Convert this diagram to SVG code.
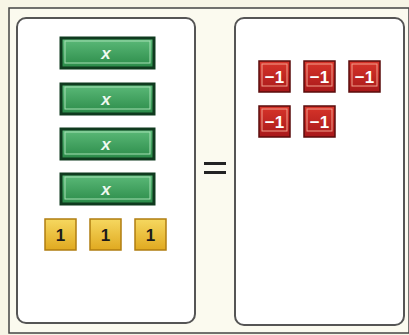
<svg xmlns="http://www.w3.org/2000/svg" width="409" height="335" viewBox="0 0 409 335">
<defs>
<linearGradient id="gg" x1="0" y1="0" x2="0" y2="1"><stop offset="0" stop-color="#5dbb7a"/><stop offset="1" stop-color="#2a8a48"/></linearGradient>
<linearGradient id="yg" x1="0" y1="0" x2="0" y2="1"><stop offset="0" stop-color="#f6d860"/><stop offset="1" stop-color="#e0a920"/></linearGradient>
<linearGradient id="rg" x1="0" y1="0" x2="0" y2="1"><stop offset="0" stop-color="#d8352a"/><stop offset="1" stop-color="#a8181a"/></linearGradient>
</defs>
<style>
.panel{fill:#ffffff;stroke:#555;stroke-width:2}
.g{fill:url(#gg);stroke:#0f3a1e;stroke-width:3}
.gi{fill:none;stroke:#a6e0b4;stroke-width:1}
.y{fill:url(#yg);stroke:#b07d10;stroke-width:1.5}
.r{fill:url(#rg);stroke:#5a0c0c;stroke-width:1.5}
.ri{fill:none;stroke:#f2a08c;stroke-width:1}
.tx{font-family:"Liberation Sans",Arial,sans-serif;font-weight:bold;text-anchor:middle}
.xt{font-size:17px;fill:#eef8f0;font-style:italic}
.ot{font-size:17px;fill:#1a1a1a}
.nt{font-size:17px;fill:#fff}
</style>
<rect x="0" y="0" width="409" height="335" fill="#f7f5e6"/>
<rect x="9" y="8" width="400" height="325" fill="#fbfaef" stroke="#444" stroke-width="1.5"/>
<g id="left-panel"><rect class="panel" x="17" y="18" width="178" height="305" rx="9"/></g>
<g id="right-panel"><rect class="panel" x="235" y="18" width="169" height="307" rx="9"/></g>
<g id="equals"><rect x="204" y="162" width="22" height="3" fill="#222"/><rect x="204" y="171" width="22" height="3" fill="#222"/></g>
<g id="x1"><rect class="g" x="61" y="38" width="93" height="30"/><rect class="gi" x="65" y="41" width="85" height="22"/><text class="tx xt" x="106" y="59">x</text></g>
<g id="x2"><rect class="g" x="61" y="84" width="93" height="30"/><rect class="gi" x="65" y="87" width="85" height="22"/><text class="tx xt" x="106" y="105">x</text></g>
<g id="x3"><rect class="g" x="61" y="129" width="93" height="30"/><rect class="gi" x="65" y="132" width="85" height="22"/><text class="tx xt" x="106" y="150">x</text></g>
<g id="x4"><rect class="g" x="61" y="174" width="93" height="30"/><rect class="gi" x="65" y="177" width="85" height="22"/><text class="tx xt" x="106" y="195">x</text></g>
<g id="one1"><rect class="y" x="45" y="219" width="31" height="31"/><text class="tx ot" x="60.5" y="241">1</text></g>
<g id="one2"><rect class="y" x="90" y="219" width="31" height="31"/><text class="tx ot" x="105.5" y="241">1</text></g>
<g id="one3"><rect class="y" x="135" y="219" width="31" height="31"/><text class="tx ot" x="150.5" y="241">1</text></g>
<g id="neg1"><rect class="r" x="259" y="61" width="31" height="31"/><rect class="ri" x="262" y="64" width="25" height="22"/><text class="tx nt" x="274.5" y="83">−1</text></g>
<g id="neg2"><rect class="r" x="304" y="61" width="31" height="31"/><rect class="ri" x="307" y="64" width="25" height="22"/><text class="tx nt" x="319.5" y="83">−1</text></g>
<g id="neg3"><rect class="r" x="349" y="61" width="31" height="31"/><rect class="ri" x="352" y="64" width="25" height="22"/><text class="tx nt" x="364.5" y="83">−1</text></g>
<g id="neg4"><rect class="r" x="259" y="106" width="31" height="31"/><rect class="ri" x="262" y="109" width="25" height="22"/><text class="tx nt" x="274.5" y="128">−1</text></g>
<g id="neg5"><rect class="r" x="304" y="106" width="31" height="31"/><rect class="ri" x="307" y="109" width="25" height="22"/><text class="tx nt" x="319.5" y="128">−1</text></g>
<g id="connectors"></g>
</svg>
